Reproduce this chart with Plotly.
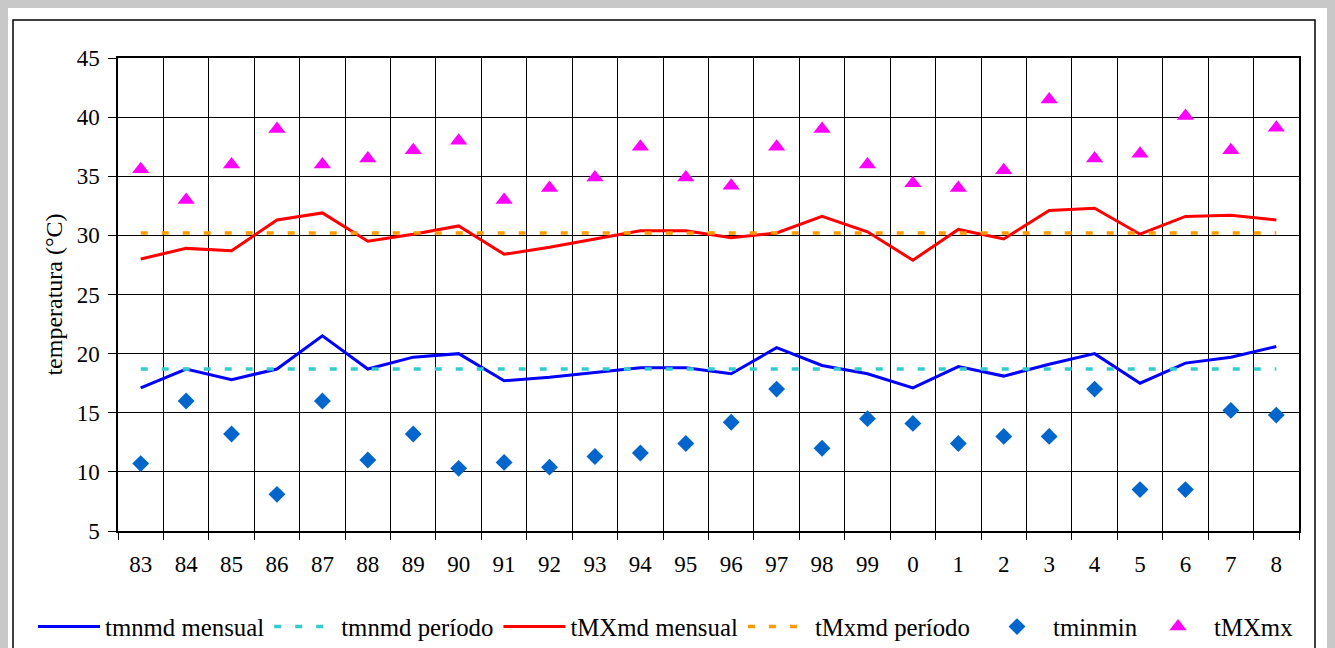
import plotly.graph_objects as go

# ---- data ----
years = ["83", "84", "85", "86", "87", "88", "89", "90", "91", "92", "93", "94", "95",
         "96", "97", "98", "99", "0", "1", "2", "3", "4", "5", "6", "7", "8"]

tmnmd_mensual = [17.1, 18.7, 17.8, 18.7, 21.5, 18.7, 19.7, 20.0, 17.7, 18.0, 18.4, 18.8, 18.8,
                 18.3, 20.5, 19.0, 18.3, 17.1, 18.9, 18.1, 19.1, 20.0, 17.5, 19.2, 19.7, 20.6]
tMXmd_mensual = [28.0, 28.9, 28.7, 31.3, 31.9, 29.5, 30.1, 30.8, 28.4, 29.0, 29.7, 30.4, 30.4,
                 29.8, 30.2, 31.6, 30.3, 27.9, 30.5, 29.7, 32.1, 32.3, 30.1, 31.6, 31.7, 31.3]
tminmin = [10.7, 16.0, 13.2, 8.1, 16.0, 11.0, 13.2, 10.3, 10.8, 10.4, 11.3, 11.6, 12.4,
           14.2, 17.0, 12.0, 14.5, 14.1, 12.4, 13.0, 13.0, 17.0, 8.5, 8.5, 15.2, 14.8]
tMXmx = [35.6, 33.0, 36.0, 39.0, 36.0, 36.5, 37.2, 38.0, 33.0, 34.0, 34.9, 37.5, 34.9,
         34.2, 37.5, 39.0, 36.0, 34.4, 34.0, 35.5, 41.5, 36.5, 36.9, 40.1, 37.2, 39.1]
tmnmd_periodo = 18.7
tMxmd_periodo = 30.2

y_ticks = [5, 10, 15, 20, 25, 30, 35, 40, 45]

FONT = "Liberation Serif, Times New Roman, serif"

fig = go.Figure()
fig.add_trace(go.Scatter(x=years, y=tmnmd_mensual, mode="lines", name="tmnmd mensual",
                         line=dict(color="#0000FF", width=3), legend="legend"))
fig.add_trace(go.Scatter(x=years, y=[tmnmd_periodo] * len(years), mode="lines",
                         name="tmnmd período", legend="legend",
                         line=dict(color="#33CCCC", width=3.5, dash="7px,14px")))
fig.add_trace(go.Scatter(x=years, y=tMXmd_mensual, mode="lines", name="tMXmd mensual",
                         line=dict(color="#FF0000", width=3), legend="legend"))
fig.add_trace(go.Scatter(x=years, y=[tMxmd_periodo] * len(years), mode="lines",
                         name="tMxmd período", legend="legend",
                         line=dict(color="#FF9900", width=3.5, dash="7px,14px")))
fig.add_trace(go.Scatter(x=years, y=tminmin, mode="markers", name="tminmin", legend="legend2",
                         marker=dict(symbol="diamond", color="#0066CC", size=13)))
fig.add_trace(go.Scatter(x=years, y=tMXmx, mode="markers", name="tMXmx", legend="legend3",
                         marker=dict(symbol="triangle-up", color="#FF00FF", size=15)))

W, H = 1335, 648
L, R, T, B = 118, 1299, 58, 531


def px(xp):
    return (xp - L) / (R - L)


def py(yp):
    return (B - yp) / (B - T)


shapes = [
    # outer grey frame
    dict(type="rect", xref="paper", yref="paper", x0=px(4), x1=px(1331), y0=py(H + 20), y1=py(4),
         line=dict(color="#C8C8C8", width=8), layer="below"),
    # black inner frame
    dict(type="rect", xref="paper", yref="paper", x0=px(13), x1=px(1315), y0=py(H + 20), y1=py(20),
         line=dict(color="#000000", width=1.5), layer="below"),
]

LEG_Y = py(604)
legend_common = dict(orientation="h", xanchor="left", y=LEG_Y, yanchor="top",
                     font=dict(family=FONT, size=24.8), bgcolor="rgba(0,0,0,0)",
                     tracegroupgap=0, itemwidth=62)

fig.update_layout(
    width=W, height=H,
    margin=dict(l=L, r=W - R, t=T, b=H - B, autoexpand=False),
    paper_bgcolor="white", plot_bgcolor="white",
    font=dict(family=FONT, color="black", size=23),
    showlegend=True,
    legend=dict(x=px(33), **legend_common),
    legend2=dict(x=px(981), **legend_common),
    legend3=dict(x=px(1142), **legend_common),
    shapes=shapes,
)

fig.update_xaxes(type="category", categoryorder="array", categoryarray=years,
                 range=[-0.5, len(years) - 0.5],
                 tickson="boundaries", ticks="outside", ticklen=7, tickcolor="black",
                 showgrid=True, gridcolor="#000000", gridwidth=1,
                 showline=True, linecolor="black", linewidth=1.5, mirror=True,
                 tickfont=dict(family=FONT, size=23), ticklabelstandoff=12,
                 zeroline=False)
fig.update_yaxes(range=[5, 45], tickvals=y_ticks, ticktext=[str(v) for v in y_ticks],
                 ticks="outside", ticklen=8, tickcolor="black",
                 showgrid=True, gridcolor="#000000", gridwidth=1,
                 showline=True, linecolor="black", linewidth=1.5, mirror=True,
                 tickfont=dict(family=FONT, size=23), ticklabelstandoff=4,
                 title=dict(text="temperatura (°C)", font=dict(family=FONT, size=24), standoff=7),
                 zeroline=False)

fig.write_html("out.html", config={"displayModeBar": False},
               post_script="document.body.style.margin='0px';")
